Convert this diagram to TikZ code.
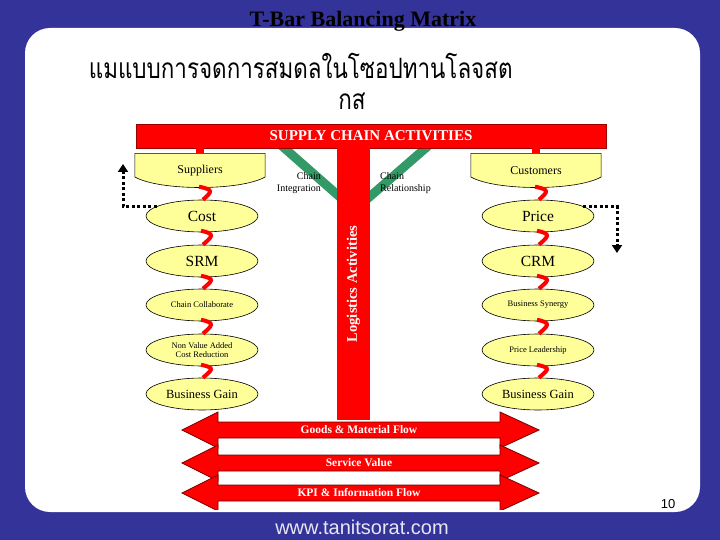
\documentclass[tikz,border=0pt]{standalone}
\usepackage{fontspec}
\setmainfont{Liberation Serif}
\setsansfont{Liberation Sans}
\newfontfamily\thaifont[Script=Thai]{Loma}
\usetikzlibrary{shapes.geometric,arrows.meta}

\definecolor{slideblue}{RGB}{51,51,153}
\definecolor{padyellow}{RGB}{255,255,153}
\definecolor{bandgreen}{RGB}{51,153,102}

\begin{document}
\begin{tikzpicture}[x=1pt,y=-1pt,
    oval/.style={ellipse, draw, line width=0.6pt, fill=padyellow, minimum width=112pt, minimum height=32pt, inner sep=0pt, align=center},
    bigtext/.style={font=\fontsize{15.5}{15.5}\selectfont},
    midtext/.style={font=\fontsize{12.5}{12.5}\selectfont},
    smalltext/.style={font=\fontsize{8.5}{9.5}\selectfont},
    cup/.style={minimum width=131pt, minimum height=35pt, inner sep=0pt, font=\fontsize{12}{12}\selectfont,
        path picture={\draw[line width=0.6pt, fill=padyellow]
            ([xshift=.4pt,yshift=-.4pt]path picture bounding box.north west) --
            ([xshift=-.4pt,yshift=-.4pt]path picture bounding box.north east) --
            ([xshift=-.4pt,yshift=11pt]path picture bounding box.south east) ..
            controls ([xshift=-25pt,yshift=-3pt]path picture bounding box.south east) and
                     ([xshift=25pt,yshift=-3pt]path picture bounding box.south west) ..
            ([xshift=.4pt,yshift=11pt]path picture bounding box.south west) -- cycle;}},
    squig/.style={red, line width=4pt},
    band/.style={bandgreen, line width=9pt},
    chainlbl/.style={font=\fontsize{10}{12}\selectfont, inner sep=0pt},
    loopline/.style={black, line width=3pt, dash pattern=on 3pt off 2.5pt, -{Triangle[length=8pt,width=10pt]}},
    flowarrow/.style={fill=red, draw=red!45!black, line width=0.8pt},
    flowtext/.style={text=white, font=\bfseries\fontsize{11.5}{11.5}\selectfont}
]
\useasboundingbox (0,0) rectangle (720,540);

% slide background
\fill[slideblue] (0,0) rectangle (720,540);
\fill[white, rounded corners=25pt] (25,28) rectangle (700,512);

% headings
\node[font=\bfseries\fontsize{22}{22}\selectfont] (title) at (363,21) {T-Bar Balancing Matrix};
\node[font=\thaifont\fontsize{28}{28}\selectfont, anchor=west, xscale=0.8, transform shape] (thai1) at (86,66) {แมแบบการจดการสมดลในโซอปทานโลจสต};
\node[font=\thaifont\fontsize{28}{28}\selectfont, xscale=0.8, transform shape] (thai2) at (352,101) {กส};

% green links into the T-bar
\draw[band] (282,146) -- (341,198);
\draw[band] (428,146) -- (366,200);
\node[chainlbl, anchor=east, align=right] (integ) at (321,183) {Chain\\Integration};
\node[chainlbl, anchor=west, align=left] (relat) at (380,183) {Chain\\Relationship};

% the T-bar
\node[fill=red, draw=red!60!black, line width=0.5pt, minimum width=470pt, minimum height=24pt, text=white,
      font=\bfseries\fontsize{15}{15}\selectfont] (sca) at (371,136) {SUPPLY CHAIN ACTIVITIES};
\node[fill=red, rotate=90, minimum width=272pt, minimum height=33pt, inner sep=0pt, text=white,
      font=\bfseries\fontsize{14.5}{14.5}\selectfont] (logi) at (353.5,284) {Logistics Activities};

% supplier side
\node[cup] (sup) at (200,170.5) {Suppliers};
\node[oval, bigtext] (cost) at (202,216) {Cost};
\node[oval, bigtext] (srm) at (202,261) {SRM};
\node[oval, smalltext] (collab) at (202,305) {Chain Collaborate};
\node[oval, smalltext] (nva) at (202,350) {Non Value Added\\Cost Reduction};
\node[oval, midtext] (gainl) at (202,394) {Business Gain};

% customer side
\node[cup] (cus) at (536,170.5) {Customers};
\node[oval, bigtext] (price) at (538,216) {Price};
\node[oval, bigtext] (crm) at (538,261) {CRM};
\node[oval, smalltext] (synergy) at (538,305) {Business Synergy};
\node[oval, smalltext] (leader) at (538,350) {Price Leadership};
\node[oval, midtext] (gainr) at (538,394) {Business Gain};

% stubs and red links
\draw[red, line width=8pt] (sup.north |- sca.south) -- (sup.north);
\draw[red, line width=8pt] (cus.north |- sca.south) -- (cus.north);
\foreach \a/\b in {sup/cost, cost/srm, srm/collab, collab/nva, nva/gainl,
                   cus/price, price/crm, crm/synergy, synergy/leader, leader/gainr}
  \draw[squig] ([xshift=-1pt,yshift=1.5pt]\a.south) .. controls +(15,3) and +(9,-8) .. ([xshift=1pt]\b.north);

% feedback loops
\coordinate (lup) at (123,164);
\coordinate (rdown) at (617,253);
\draw[loopline] (cost.168) -| (lup);
\draw[loopline] (price.12) -| (rdown);

% flows
\begin{scope}
\clip (0,0) rectangle (720,509);
\foreach \yy/\txt [count=\i] in {430/{Goods \& Material Flow}, 463/{Service Value}, 493/{KPI \& Information Flow}} {
  \draw[flowarrow] (182,\yy) -- (218,\yy-18) -- (218,\yy-8) -- (500,\yy-8) -- (500,\yy-18) -- (539,\yy)
                   -- (500,\yy+18) -- (500,\yy+8) -- (218,\yy+8) -- (218,\yy+18) -- cycle;
  \node[flowtext] (flow\i) at (359,\yy) {\txt};
}
\end{scope}

% footer
\node[font=\sffamily\fontsize{13}{13}\selectfont] (pageno) at (668,504) {10};
\node[font=\sffamily\fontsize{20}{20}\selectfont, text=white!88!slideblue] (site) at (362,527) {www.tanitsorat.com};
\end{tikzpicture}
\end{document}
